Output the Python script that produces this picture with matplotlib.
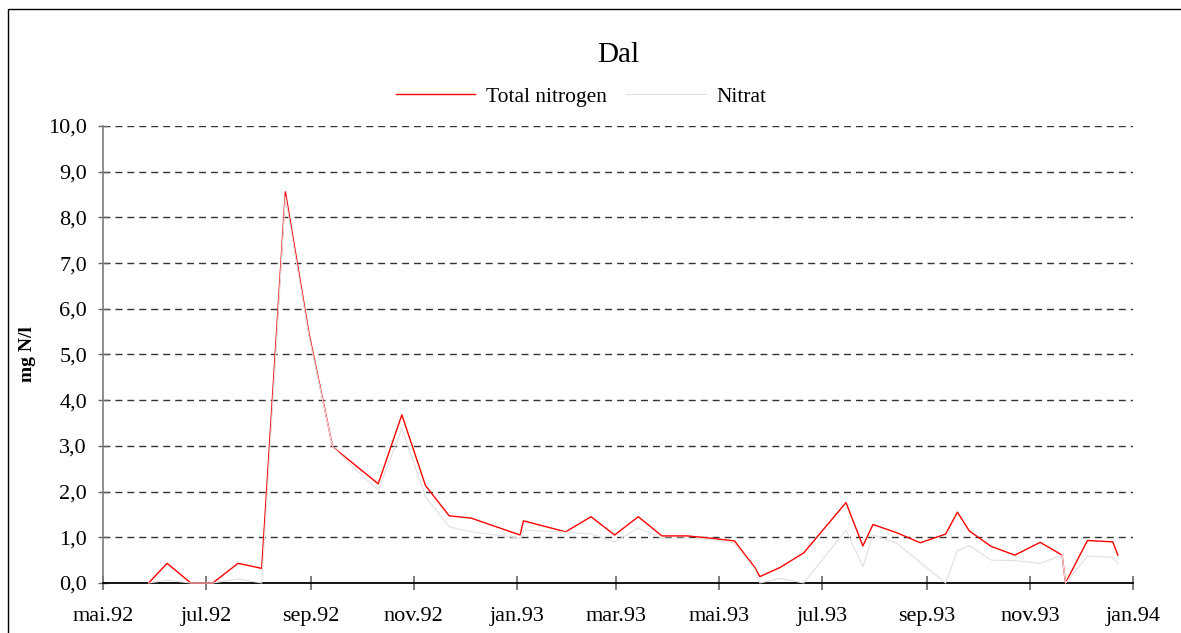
"""Plot total nitrogen and nitrate at Dal, May 1992 - January 1994."""

from __future__ import annotations

import matplotlib

matplotlib.use("Agg")

import matplotlib.pyplot as plt
import numpy as np
from matplotlib.patches import Rectangle

SAMPLE_DATES = [
    "1992-05-28", "1992-06-08", "1992-06-22", "1992-07-05", "1992-07-20",
    "1992-08-03", "1992-08-17", "1992-08-31", "1992-09-14", "1992-09-28",
    "1992-10-11", "1992-10-25", "1992-11-08", "1992-11-22", "1992-12-05",
    "1993-01-03", "1993-01-05", "1993-01-30", "1993-02-14", "1993-02-28",
    "1993-03-14", "1993-03-28", "1993-04-12", "1993-04-26", "1993-05-10",
    "1993-05-22", "1993-05-25", "1993-06-06", "1993-06-20", "1993-07-15",
    "1993-07-25", "1993-07-31", "1993-08-14", "1993-08-28", "1993-09-12",
    "1993-09-19", "1993-09-26", "1993-10-09", "1993-10-23", "1993-11-07",
    "1993-11-20", "1993-11-22", "1993-12-05", "1993-12-20", "1993-12-23",
]

TOTAL_NITROGEN = [
    0.00, 0.43, 0.00, 0.00, 0.43,
    0.32, 8.56, 5.46, 2.98, 2.56,
    2.17, 3.68, 2.13, 1.47, 1.42,
    1.05, 1.36, 1.12, 1.45, 1.05,
    1.45, 1.03, 1.03, 0.98, 0.92,
    0.34, 0.14, 0.34, 0.66, 1.76,
    0.81, 1.28, 1.10, 0.88, 1.07,
    1.55, 1.14, 0.80, 0.61, 0.89,
    0.61, 0.00, 0.93, 0.90, 0.61,
]

NITRAT = [
    0.00, 0.06, 0.00, 0.00, 0.09,
    0.00, 8.45, 5.40, 2.98, 2.47,
    2.03, 3.38, 1.89, 1.23, 1.12,
    0.98, 1.16, 1.11, 1.07, 0.90,
    1.20, 0.98, 0.98, 0.95, 0.87,
    0.30, 0.00, 0.10, 0.00, 1.16,
    0.36, 1.05, 0.87, 0.45, 0.00,
    0.71, 0.82, 0.50, 0.49, 0.43,
    0.61, 0.00, 0.59, 0.56, 0.43,
]

X_TICK_DATES = [
    "1992-05-01", "1992-07-01", "1992-09-01", "1992-11-01", "1993-01-01",
    "1993-03-01", "1993-05-01", "1993-07-01", "1993-09-01", "1993-11-01",
    "1994-01-01",
]
X_TICK_LABELS = [
    "mai.92", "jul.92", "sep.92", "nov.92", "jan.93", "mar.93",
    "mai.93", "jul.93", "sep.93", "nov.93", "jan.94",
]
Y_TICKS = [0, 1, 2, 3, 4, 5, 6, 7, 8, 9, 10]
Y_TICK_LABELS = [f"{v:.1f}".replace(".", ",") for v in Y_TICKS]


def plot_dal(out_path: str = "out.png") -> None:
    """Draw both series on a shared date axis and save the figure."""
    plt.rcParams["font.family"] = ["Liberation Serif", "DejaVu Serif"]

    dates = np.array(SAMPLE_DATES, dtype="datetime64[D]")
    tick_dates = np.array(X_TICK_DATES, dtype="datetime64[D]")

    fig = plt.figure(figsize=(11.81, 6.33), dpi=100)
    ax = fig.add_axes([0.0872, 0.079, 0.8722, 0.722])

    ax.plot(dates, TOTAL_NITROGEN, color="#ff0000", lw=1.0,
            label="Total nitrogen", zorder=3, clip_on=False)
    ax.plot(dates, NITRAT, color="#e0e0e0", lw=0.8,
            label="Nitrat", zorder=4, clip_on=False)

    ax.set_xlim(tick_dates[0], tick_dates[-1])
    ax.set_ylim(0, 10)

    ax.set_xticks(tick_dates)
    ax.set_xticklabels(X_TICK_LABELS)
    ax.set_yticks(Y_TICKS)
    ax.set_yticklabels(Y_TICK_LABELS)

    ax.tick_params(axis="x", direction="inout", length=10, width=1.2,
                   color="#666666", pad=12, labelsize=16)
    ax.tick_params(axis="y", direction="inout", length=7, width=1.0,
                   color="#666666", pad=8, labelsize=16)

    for dashed in Y_TICKS[1:]:
        ax.axhline(dashed, color="#333333", lw=1.0, ls=(0, (5, 3.6)),
                   zorder=1)

    for side in ("top", "right"):
        ax.spines[side].set_visible(False)
    ax.spines["left"].set_color("#7a7a7a")
    ax.spines["left"].set_linewidth(1.2)
    ax.spines["bottom"].set_color("black")
    ax.spines["bottom"].set_linewidth(1.3)

    ax.set_ylabel("mg N/l", fontsize=14, fontweight="bold", labelpad=9)

    fig.text(0.5233, 0.913, "Dal", ha="center", va="center", fontsize=21)
    fig.legend(loc="center", bbox_to_anchor=(0.492, 0.847), ncol=2,
               frameon=False, fontsize=15.5, handlelength=3.7,
               handletextpad=0.5, columnspacing=0.9)

    # outer chart frame, open at the right and bottom edges
    fig.patches.append(Rectangle((8 / 1181, -0.2), 2.0, 1.2 - 9 / 633,
                                 transform=fig.transFigure, fill=False,
                                 edgecolor="black", lw=1.0))

    fig.savefig(out_path, dpi=100)
    plt.close(fig)


def main() -> None:
    plot_dal()


if __name__ == "__main__":
    main()
